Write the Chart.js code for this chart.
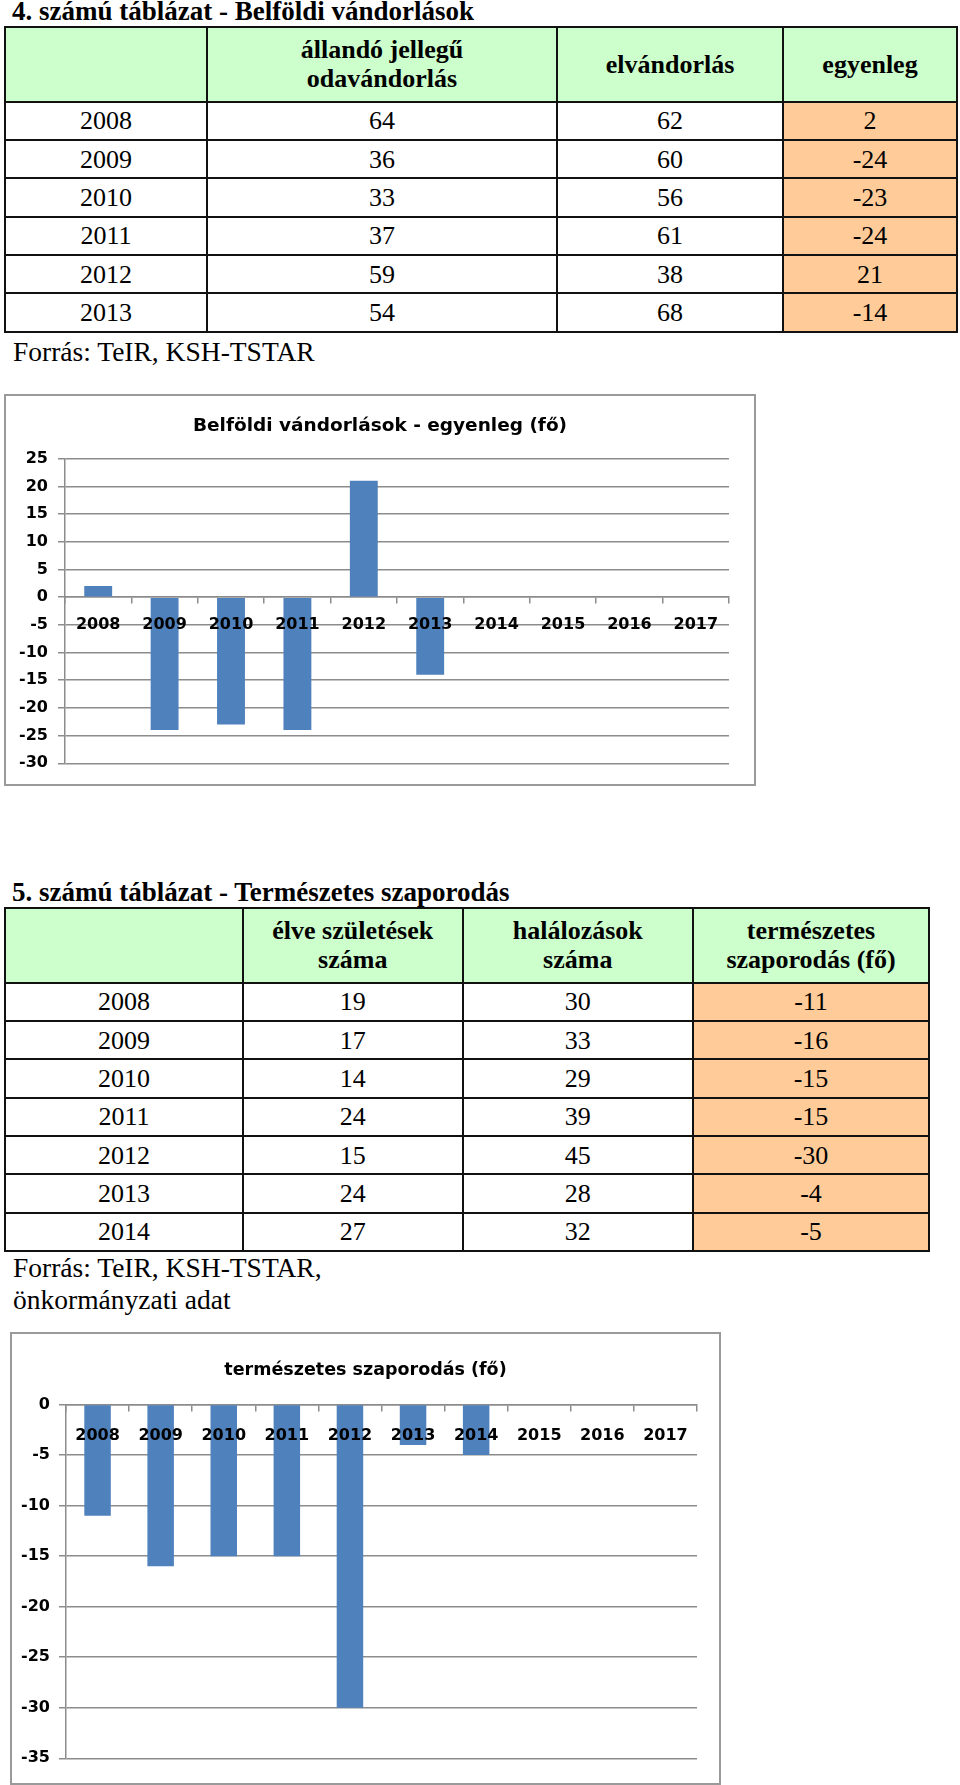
<!DOCTYPE html>
<html><head><meta charset="utf-8">
<script src="https://cdn.jsdelivr.net/npm/chart.js@4.4.0/dist/chart.umd.min.js"></script>
<style>
body{margin:0;background:#fff;width:960px;height:1785px;position:relative;overflow:hidden;font-family:"Liberation Serif","Times New Roman",serif;color:#000}
.cap{position:absolute;font-size:27px;font-weight:bold;white-space:nowrap;line-height:26px}
.src{position:absolute;font-size:27.5px;white-space:nowrap;line-height:32px}
.cell{position:absolute;display:flex;align-items:center;justify-content:center;text-align:center;font-size:26px;line-height:29px;white-space:nowrap}
.hd{font-weight:bold}
.ln{position:absolute;background:#111}
.frame{position:absolute;border:2px solid #9a9a9a;box-sizing:border-box;background:#fff}
.frame canvas{position:absolute;left:0;top:0}
</style></head>
<body>
<div class="cap" style="left:12px;top:-2px">4. számú táblázat - Belföldi vándorlások</div>
<div id="t1"></div>
<div class="src" style="left:13px;top:336px">Forrás: TeIR, KSH-TSTAR</div>
<div class="frame" style="left:4px;top:394px;width:752px;height:392px"><canvas id="c1" width="748" height="388"></canvas></div>

<div class="cap" style="left:12px;top:879px">5. számú táblázat - Természetes szaporodás</div>
<div id="t2"></div>
<div class="src" style="left:13px;top:1252px">Forrás: TeIR, KSH-TSTAR,<br>önkormányzati adat</div>
<div class="frame" style="left:10px;top:1332px;width:711px;height:453px"><canvas id="c2" width="707" height="449"></canvas></div>

<script>
// ---- Table 1 data ----
const t1Headers = [[], ['állandó jellegű', 'odavándorlás'], ['elvándorlás'], ['egyenleg']];
const t1Years = ['2008', '2009', '2010', '2011', '2012', '2013'];
const t1Odavandorlas = [64, 36, 33, 37, 59, 54];
const t1Elvandorlas = [62, 60, 56, 61, 38, 68];
const t1Egyenleg = [2, -24, -23, -24, 21, -14];

// ---- Table 2 data ----
const t2Headers = [[], ['élve születések', 'száma'], ['halálozások', 'száma'], ['természetes', 'szaporodás (fő)']];
const t2Years = ['2008', '2009', '2010', '2011', '2012', '2013', '2014'];
const t2Szuletes = [19, 17, 14, 24, 15, 24, 27];
const t2Halalozas = [30, 33, 29, 39, 45, 28, 32];
const t2Szaporodas = [-11, -16, -15, -15, -30, -4, -5];

// ---- Chart data ----
const chartYears = ['2008', '2009', '2010', '2011', '2012', '2013', '2014', '2015', '2016', '2017'];
const chart1Title = 'Belföldi vándorlások - egyenleg (fő)';
const chart1Values = [2, -24, -23, -24, 21, -14, null, null, null, null];
const chart1YTicks = [-30, -25, -20, -15, -10, -5, 0, 5, 10, 15, 20, 25];
const chart2Title = 'természetes szaporodás (fő)';
const chart2Values = [-11, -16, -15, -15, -30, -4, -5, null, null, null];
const chart2YTicks = [-35, -30, -25, -20, -15, -10, -5, 0];

function buildTable(id, xs, top, headH, rowH, headers, columns) {
  const host = document.getElementById(id);
  const nRows = columns[0].length;
  const ys = [top, top + headH];
  for (let i = 1; i <= nRows; i++) ys.push(top + headH + i * rowH);
  const nCols = xs.length - 1;
  let html = '';
  for (let c = 0; c < nCols; c++) {
    html += `<div class="cell hd" style="left:${xs[c]}px;top:${ys[0]}px;width:${xs[c+1]-xs[c]}px;height:${ys[1]-ys[0]}px;background:#CCFFCC">${headers[c].join('<br>')}</div>`;
  }
  for (let r = 0; r < nRows; r++) {
    for (let c = 0; c < nCols; c++) {
      const bg = c === nCols - 1 ? '#FFCC99' : '#fff';
      html += `<div class="cell" style="left:${xs[c]}px;top:${ys[r+1]}px;width:${xs[c+1]-xs[c]}px;height:${ys[r+2]-ys[r+1]}px;background:${bg}">${columns[c][r]}</div>`;
    }
  }
  for (const y of ys) html += `<div class="ln" style="left:${xs[0]-1}px;top:${y-1}px;width:${xs[xs.length-1]-xs[0]+2}px;height:2px"></div>`;
  for (const x of xs) html += `<div class="ln" style="left:${x-1}px;top:${ys[0]-1}px;width:2px;height:${ys[ys.length-1]-ys[0]+2}px"></div>`;
  host.innerHTML = html;
}

buildTable('t1', [5, 207, 557, 783, 957], 26.7, 75, 38.33, t1Headers,
  [t1Years, t1Odavandorlas, t1Elvandorlas, t1Egyenleg]);
buildTable('t2', [5, 243, 462.5, 693, 929], 907.7, 75, 38.33, t2Headers,
  [t2Years, t2Szuletes, t2Halalozas, t2Szaporodas]);

const GRID = '#8c8c8c';
const tickFont = { family: 'DejaVu Sans', weight: 'bold', size: 16 };

function makeChart(id, title, values, yTicks, o) {
  return new Chart(document.getElementById(id), {
    type: 'bar',
    data: {
      labels: chartYears,
      datasets: [{ data: values, backgroundColor: '#4F81BD', borderWidth: 0,
        barPercentage: 0.42, categoryPercentage: 1 }]
    },
    options: {
      responsive: false, animation: false, devicePixelRatio: 1,
      layout: { padding: { left: 0, right: 0, top: 0, bottom: o.padB } },
      plugins: {
        legend: { display: false }, tooltip: { enabled: false },
        title: { display: true, text: title, color: '#000',
          font: { family: 'DejaVu Sans', weight: 'bold', size: o.titleSize },
          padding: { top: o.titlePT, bottom: o.titlePB } }
      },
      scales: {
        y: {
          min: yTicks[0], max: yTicks[yTicks.length - 1],
          ticks: { stepSize: yTicks[1] - yTicks[0], color: '#000', font: tickFont, padding: o.yPad },
          grid: { color: GRID, lineWidth: 1.5, tickLength: 7, drawTicks: true },
          border: { color: GRID, width: 1.5 },
          afterFit: s => { s.width = o.yW; }
        },
        yr: {
          type: 'linear', position: 'right', display: true,
          grid: { display: false }, border: { display: false }, ticks: { display: false },
          afterFit: s => { s.width = o.rightW; }
        },
        x: {
          position: { y: 0 },
          ticks: { z: 1, color: '#000', font: tickFont, padding: o.xPad, maxRotation: 0, minRotation: 0, autoSkip: false },
          grid: { drawOnChartArea: false, drawTicks: true, tickLength: 6, color: GRID, lineWidth: 1.5, offset: true },
          border: { color: GRID, width: 1.5 },
          afterFit: s => { s.height = 0; }
        }
      }
    }
  });
}

makeChart('c1', chart1Title, chart1Values, chart1YTicks,
  { padB: 20.7, yW: 59, rightW: 25, titleSize: 18.5, titlePT: 19.5, titlePB: 21, yPad: 10, xPad: 12 });
makeChart('c2', chart2Title, chart2Values, chart2YTicks,
  { padB: 24.7, yW: 54, rightW: 22, titleSize: 17.5, titlePT: 25.5, titlePB: 24, yPad: 9, xPad: 16 });
</script>
</body></html>
